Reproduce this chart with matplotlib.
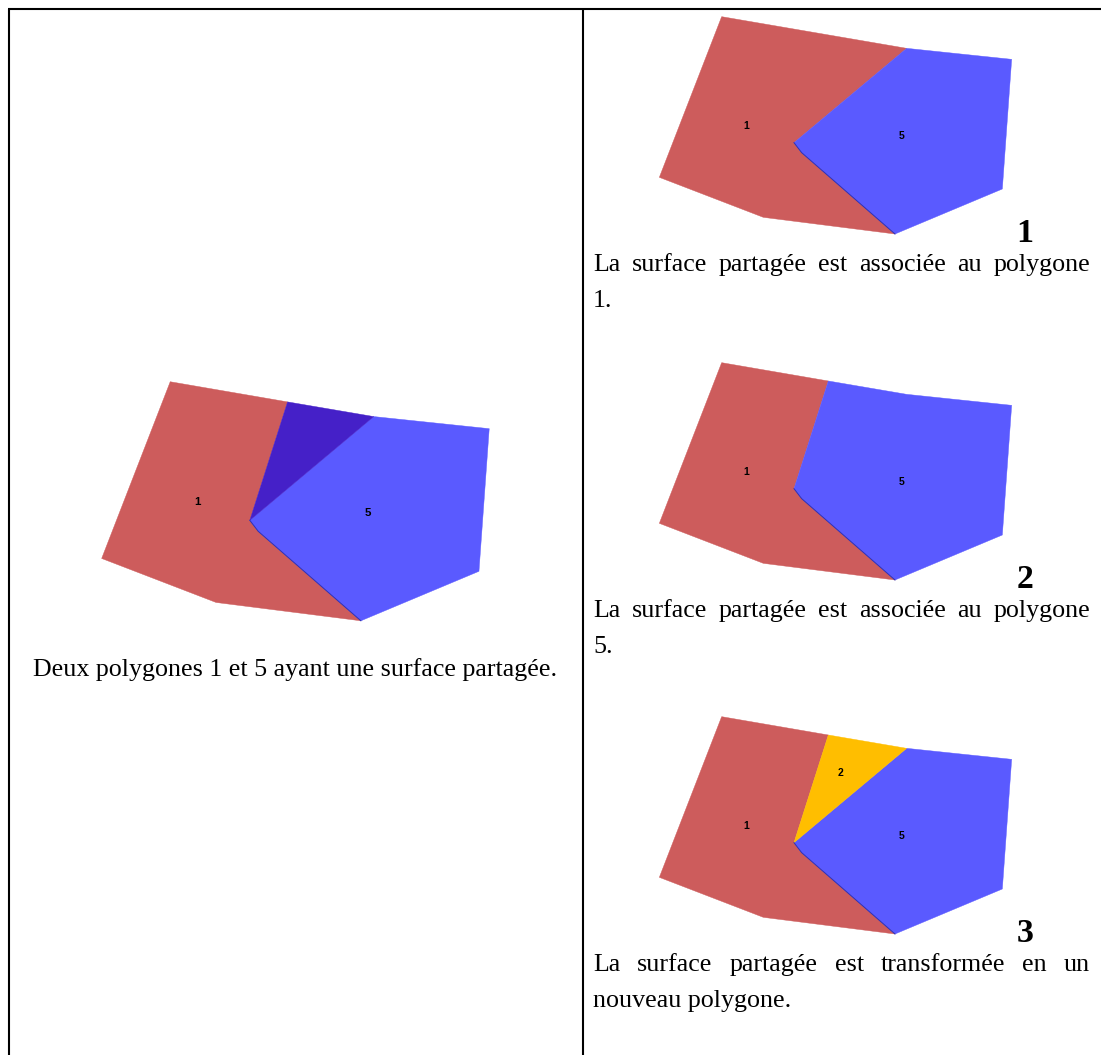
import matplotlib
matplotlib.use('Agg')
import matplotlib.pyplot as plt
from matplotlib.patches import Polygon

# sommets des polygones (repère local de la vignette)
# polygone 1 sans / avec la surface partagée
red_x = [215, 535, 432, 455, 735, 340, 28]
red_y = [20, 75, 398, 428, 672, 622, 502]
red_full_x = [215, 770, 432, 455, 735, 340, 28]
red_full_y = [20, 115, 398, 428, 672, 622, 502]
# polygone 5 sans / avec la surface partagée
blue_x = [432, 770, 1085, 1057, 735, 455]
blue_y = [398, 115, 148, 537, 672, 428]
blue_full_x = [432, 535, 770, 1085, 1057, 735, 455]
blue_full_y = [398, 75, 115, 148, 537, 672, 428]
# surface partagée
shared_x = [535, 770, 432]
shared_y = [75, 115, 398]
edge_x = [432, 455, 735]
edge_y = [398, 428, 672]
labels = ['1', '5', '2']
label_x = [290, 755, 570]
label_y = [348, 378, 190]

left_caption = "Deux polygones 1 et 5 ayant une surface partagée."
cases = [
    ("La surface partagée est associée au polygone", "1."),
    ("La surface partagée est associée au polygone", "5."),
    ("La surface partagée est transformée en un", "nouveau polygone."),
]
case_numbers = ['1', '2', '3']

RED = '#CD5C5C'
BLUE = '#5A5AFF'
DARK = '#4520C8'
YELLOW = '#FFBE00'

W, H = 1101, 1055
fig = plt.figure(figsize=(W / 100, H / 100), dpi=100)
ax = fig.add_axes([0, 0, 1, 1])
ax.set_xlim(0, W)
ax.set_ylim(H, 0)
ax.axis('off')
renderer = fig.canvas.get_renderer()

serif = 'Liberation Serif'


def tr(xs, ys, ox, oy, s):
    return [(ox + x * s, oy + y * s) for x, y in zip(xs, ys)]


def poly(xs, ys, ox, oy, s, color):
    ax.add_patch(Polygon(tr(xs, ys, ox, oy, s), closed=True, fc=color, ec=color, lw=0.3))


def draw_panel(ox, oy, s, mode):
    if mode == 'red':
        poly(red_full_x, red_full_y, ox, oy, s, RED)
        poly(blue_x, blue_y, ox, oy, s, BLUE)
    elif mode == 'blue':
        poly(red_x, red_y, ox, oy, s, RED)
        poly(blue_full_x, blue_full_y, ox, oy, s, BLUE)
    else:
        poly(red_x, red_y, ox, oy, s, RED)
        poly(blue_x, blue_y, ox, oy, s, BLUE)
        poly(shared_x, shared_y, ox, oy, s, DARK if mode == 'overlap' else YELLOW)
    pts = tr(edge_x, edge_y, ox, oy, s)
    ax.plot([p[0] for p in pts], [p[1] for p in pts], color='#3030B0', lw=0.7)
    n = 3 if mode == 'new' else 2
    for name, lx, ly in zip(labels[:n], label_x[:n], label_y[:n]):
        ax.text(ox + lx * s, oy + ly * s, name, ha='center', va='center',
                fontsize=7.5 * s * 3, fontweight='bold', family='Liberation Sans')


def justify(words, x0, x1, y, size):
    texts = [ax.text(0, y, w, va='center', ha='left', fontsize=size, family=serif) for w in words]
    widths = [t.get_window_extent(renderer).width for t in texts]
    gap = (x1 - x0 - sum(widths)) / (len(words) - 1)
    x = x0
    for t, w in zip(texts, widths):
        t.set_x(x)
        x += w + gap


# cadre du tableau
ax.plot([8.5, 8.5], [8.5, H], color='black', lw=1.5, solid_capstyle='butt')
ax.plot([582.5, 582.5], [8.5, H], color='black', lw=1.5, solid_capstyle='butt')
ax.plot([7.5, W], [8.5, 8.5], color='black', lw=1.5, solid_capstyle='butt')

# taille du texte ajustée sur la légende de gauche
probe = ax.text(0, 0, left_caption, fontsize=10, family=serif)
size = 10 * 524 / probe.get_window_extent(renderer).width
probe.remove()

draw_panel(91.4, 374.4, 1.1 / 3, 'overlap')
ax.text(33, 670, left_caption, va='center', ha='left', fontsize=size, family=serif)

panel_y = [10, 356, 710]
modes = ['red', 'blue', 'new']
for (line1, line2), num, oy, mode in zip(cases, case_numbers, panel_y, modes):
    draw_panel(650, oy, 1 / 3, mode)
    ax.text(1025, oy + 224, num, ha='center', va='center', fontsize=size * 1.3,
            fontweight='bold', family=serif)
    justify(line1.split(), 593, 1090, oy + 255, size)
    ax.text(593, oy + 291, line2, va='center', ha='left', fontsize=size, family=serif)

fig.savefig('out.png', dpi=100)
